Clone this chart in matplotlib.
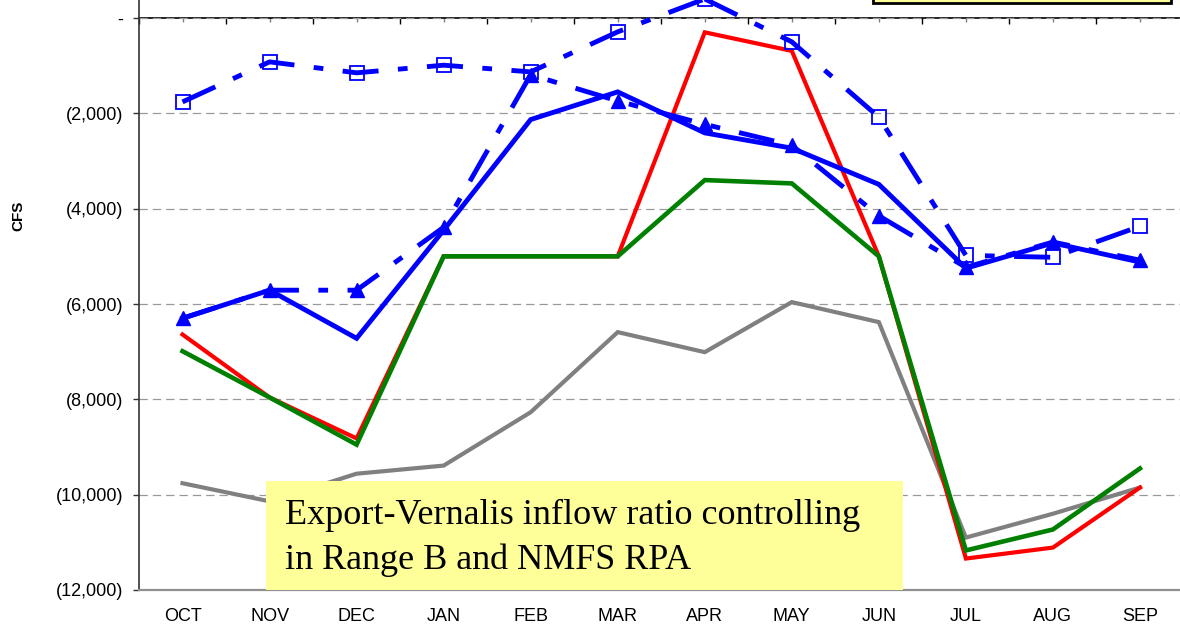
import numpy as np
import matplotlib
matplotlib.use("Agg")
import matplotlib.pyplot as plt
from matplotlib.patches import Rectangle
from matplotlib.ticker import FuncFormatter

# --- Data (CFS, negative = export/reverse flow) ---
months = ['OCT', 'NOV', 'DEC', 'JAN', 'FEB', 'MAR', 'APR', 'MAY', 'JUN', 'JUL', 'AUG', 'SEP']

gray_vals = [-9760, -10140, -9560, -9390, -8270, -6590, -7010, -5960, -6380, -10900, -10400, -9850]
red_vals = [-6640, -7960, -8820, -5000, -5000, -5000, -300, -690, -5000, -11340, -11110, -9850]
green_vals = [-6990, -7960, -8950, -5000, -5000, -5000, -3400, -3470, -5000, -11170, -10730, -9450]
blue_solid = [-6300, -5710, -6720, -4450, -2130, -1550, -2410, -2730, -3490, -5250, -4720, -5120]
blue_tri = [-6300, -5710, -5710, -4390, -1190, -1740, -2230, -2670, -4150, -5230, -4700, -5080]
blue_sq = [-1760, -920, -1150, -990, -1130, -290, 400, -500, -2080, -4980, -5020, -4370]

yticks = [0, -2000, -4000, -6000, -8000, -10000, -12000]
note_lines = ['Export-Vernalis inflow ratio controlling', 'in Range B and NMFS RPA']

plt.rcParams['font.family'] = ['Liberation Sans', 'DejaVu Sans']
plt.rcParams['lines.scale_dashes'] = False

W, H = 1180, 626
fig = plt.figure(figsize=(W / 100, H / 100), dpi=100)
ax = fig.add_axes([139 / W, 36 / H, (1183.5 - 139) / W, 590 / H])

x = np.arange(len(months))
long_dash_dot = (0, (26, 14, 7, 14))

ax.plot(x, gray_vals, color='#808080', lw=3.0, solid_joinstyle='miter')
ax.plot(x, red_vals, color='#FF0000', lw=3.0, solid_joinstyle='miter')
ax.plot(x, green_vals, color='#008000', lw=3.3, solid_joinstyle='miter')
ax.plot(x, blue_solid, color='#0000FF', lw=3.5, solid_joinstyle='miter')
ax.plot(x, blue_tri, color='#0000FF', lw=3.5, linestyle=long_dash_dot,
        marker='^', markersize=10, markerfacecolor='#0000FF', markeredgecolor='#0000FF')
ax.plot(x, blue_sq, color='#0000FF', lw=3.5, linestyle=long_dash_dot,
        marker='s', markersize=9.5, markerfacecolor='none', markeredgecolor='#0000FF',
        markeredgewidth=1.3)

ymin, ymax = -12000, 378
ax.set_xlim(-0.5, 11.5)
ax.set_ylim(ymin, ymax)

# axes styling
ax.set_xticks(x)
ax.set_xticklabels(months)
ax.tick_params(axis='x', length=0, pad=13, labelsize=13)
ax.set_yticks(yticks)
ax.yaxis.set_major_formatter(FuncFormatter(lambda v, p: '-' if v == 0 else '({:,.0f})'.format(abs(v))))
ax.tick_params(axis='y', direction='out', length=4.3, width=1, color='#333333', pad=7, labelsize=13)
ax.yaxis.grid(True, linestyle=(0, (6, 3.6)), color='#999999', lw=0.9)
ax.set_axisbelow(True)
for s in ['top', 'right']:
    ax.spines[s].set_visible(False)
ax.spines['left'].set_color('#333333')
ax.spines['left'].set_linewidth(1.2)
ax.spines['bottom'].set_color('#909090')
ax.spines['bottom'].set_linewidth(1.6)

# category axis line crossing at zero
zero_frac = (0 - ymin) / (ymax - ymin)
sec = ax.secondary_xaxis(zero_frac)
sec.set_xticks(np.arange(-0.5, 12, 1))
sec.set_xticks(x, minor=True)
sec.tick_params(which='major', direction='in', length=4.5, width=1, color='black',
                labeltop=False, labelbottom=False)
sec.tick_params(which='minor', direction='in', length=3.2, width=1, color='#808080',
                labeltop=False, labelbottom=False)
for s in sec.spines.values():
    s.set_color('black')
    s.set_linewidth(1.2)

# y label
fig.text(18 / W, 1 - 216 / H, 'CFS', rotation=90, fontsize=11, fontweight='heavy',
         ha='center', va='center')

# annotation box
fig.patches.append(Rectangle((266 / W, 36 / H), (903 - 266) / W, (590 - 481) / H,
                             transform=fig.transFigure, facecolor='#FFFF99',
                             edgecolor='none', zorder=5))
serif = ['Liberation Serif', 'DejaVu Serif']
fig.text(285 / W, (H - 524) / H, note_lines[0], family=serif,
         fontsize=26, va='baseline', ha='left', zorder=6)
fig.text(285 / W, (H - 569) / H, note_lines[1], family=serif,
         fontsize=26, va='baseline', ha='left', zorder=6)

# legend box peeking in at the top right
fig.patches.append(Rectangle((873 / W, (H - 3) / H), (1171 - 873) / W, 0.1,
                             transform=fig.transFigure, facecolor='#FFFF99',
                             edgecolor='black', lw=2, zorder=5, clip_on=False))

fig.savefig('out.png', dpi=100)
